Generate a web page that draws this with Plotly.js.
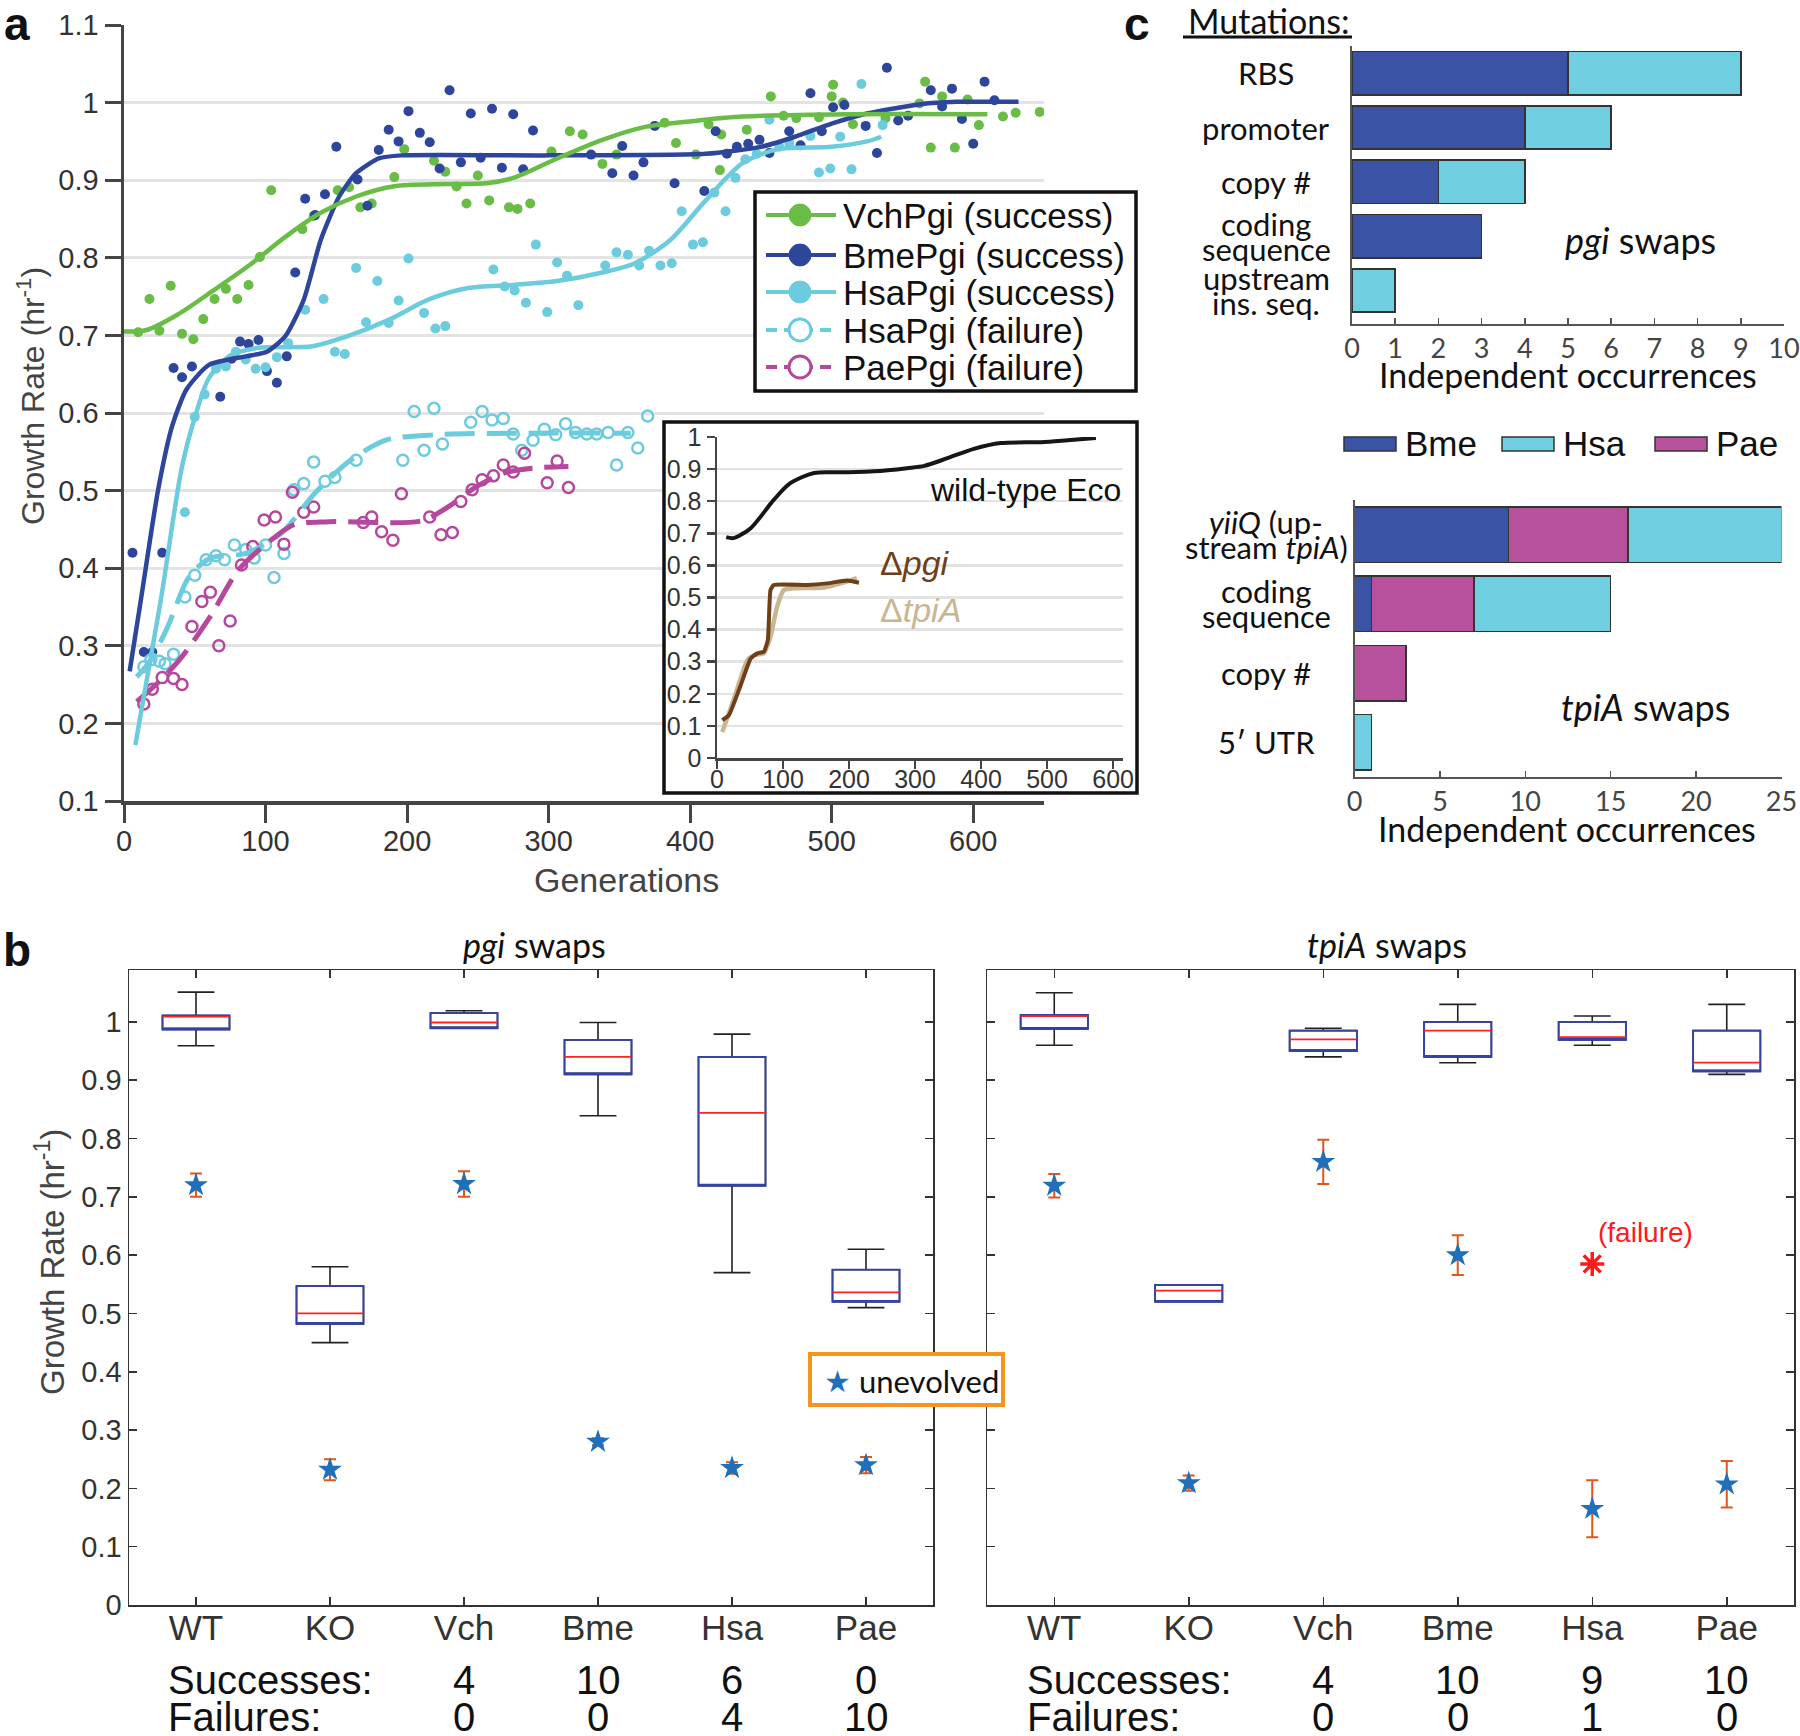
<!DOCTYPE html>
<html><head><meta charset="utf-8">
<script src="https://cdn.plot.ly/plotly-3.0.1.min.js"></script>
<style>html,body{margin:0;padding:0;background:#fff}</style>
</head><body>
<div id="chart" style="width:1800px;height:1736px"></div>
<script>
// ---------- Panel a data ----------
const vchGen=[10,18,25,33,41,49,56,64,72,80,88,96,104,126,134,151,159,167,175,191,198,219,227,235,242,250,258,272,278,287,302,315,324,338,348,382,390,404,413,421,422,440,457,466,475,491,500,501,508,515,538,562,566,570,578,587,596,604,621,630,647];
const vchRate=[.704,.747,.706,.764,.702,.695,.721,.747,.760,.747,.765,.801,.887,.837,.854,.887,.891,.865,.870,.904,.940,.925,.911,.892,.870,.906,.874,.865,.863,.870,.937,.963,.959,.921,.933,.974,.948,.933,.972,.913,.959,.965,1.008,.983,.980,.981,1.008,1.023,1.000,.972,.980,.999,1.027,.942,1.008,.942,1.004,.971,.982,.987,.988];
const bmeGen=[6,14,20,27,35,41,48,68,76,82,88,95,101,108,115,121,128,135,142,150,165,172,180,187,194,201,209,216,223,230,238,245,252,260,267,275,282,289,330,345,352,360,367,375,389,410,418,426,433,441,449,456,470,478,485,493,501,509,524,532,539,547,554,570,578,585,592,600,608,615];
const bmeRate=[.420,.292,.292,.420,.658,.646,.660,.621,.670,.692,.689,.694,.654,.639,.673,.781,.876,.855,.882,.943,.901,.867,.939,.965,.950,.989,.961,.949,.915,1.016,.923,.986,.929,.992,.916,.985,.914,.964,.933,.909,.944,.906,.923,.970,.896,.886,.963,.934,.943,.947,.952,.935,.963,.945,1.012,.963,.994,.997,.970,.935,1.045,.977,.983,1.016,.995,1.018,.979,.947,1.027,1.003];
const hsaGen=[43,50,57,65,72,79,86,93,100,108,116,128,141,149,156,164,171,179,187,194,201,212,220,227,261,269,276,284,291,299,306,313,321,340,348,356,364,371,379,387,394,402,409,417,425,432,439,447,456,463,470,485,491,499,506,514,521,536];
const hsaRate=[.472,.595,.624,.657,.660,.679,.669,.657,.659,.672,.690,.733,.747,.679,.676,.787,.717,.770,.716,.745,.799,.729,.709,.712,.785,.763,.758,.742,.817,.730,.794,.777,.739,.790,.807,.804,.790,.809,.790,.793,.860,.817,.820,.884,.860,.903,.927,.934,.978,.943,.948,.957,.910,.915,.956,.914,1.024,.971];
const hsaFailGen=[14,19,25,29,35,43,50,58,65,71,78,86,92,100,106,113,120,127,134,142,149,164,197,205,212,219,225,245,253,260,268,275,281,289,297,305,312,319,327,334,342,348,356,363,370];
const hsaFailRate=[.273,.282,.280,.277,.289,.363,.391,.411,.416,.411,.430,.424,.413,.430,.388,.419,.501,.509,.537,.512,.517,.539,.539,.602,.552,.606,.560,.588,.602,.591,.593,.573,.552,.565,.579,.572,.586,.575,.573,.573,.575,.533,.575,.555,.596];
const paeFailGen=[14,20,27,35,41,48,55,61,67,75,83,91,99,107,113,119,127,134,169,175,182,190,196,216,224,232,238,246,253,261,268,275,283,299,306,314];
const paeFailRate=[.225,.244,.259,.258,.250,.325,.357,.369,.300,.332,.404,.428,.462,.466,.431,.498,.472,.479,.459,.466,.447,.436,.496,.466,.443,.446,.486,.501,.514,.519,.533,.524,.548,.510,.538,.504];
// fitted trends
const vchFitGen=[0,16,38,64,89,114,139,164,190,227,256,275,306,338,369,406,437,512,610];
const vchFitRate=[.705,.707,.727,.759,.791,.827,.858,.879,.892,.895,.896,.903,.928,.952,.969,.977,.982,.985,.985];
const bmeFitGen=[4,12,24,34,44,60,86,101,114,127,139,152,164,180,196,300,411,450,474,500,525,563,588,632];
const bmeFitRate=[.267,.36,.50,.583,.63,.662,.673,.679,.699,.746,.823,.879,.909,.928,.932,.932,.934,.943,.956,.973,.986,.998,1.001,1.001];
const hsaFitGen=[8,26,41,51,60,76,95,133,158,187,215,243,275,306,338,361,386,411,437,462,500,525,535];
const hsaFitRate=[.172,.359,.531,.600,.645,.675,.684,.686,.699,.720,.746,.761,.765,.770,.781,.793,.823,.874,.922,.940,.943,.950,.956];
const hsaFailFitGen=[9,19,31,46,61,86,111,135,160,185,220,284,358];
const hsaFailFitRate=[.260,.282,.325,.389,.413,.419,.445,.497,.539,.565,.572,.574,.574];
const paeFailFitGen=[9,26,41,61,81,101,120,145,210,229,249,269,289,314];
const paeFailFitRate=[.228,.256,.286,.338,.398,.432,.456,.460,.461,.479,.505,.523,.529,.531];
const legendLabels=['VchPgi (success)','BmePgi (success)','HsaPgi (success)','HsaPgi (failure)','PaePgi (failure)'];
const genTicks=[0,100,200,300,400,500,600];
// inset
const ecoGen=[14,25,51,86,111,147,187,238,288,314,349,389,430,491,531,574];
const ecoRate=[.688,.685,.716,.804,.856,.888,.890,.893,.903,.910,.934,.963,.981,.984,.990,.997];
const dPgiGen=[8,18,35,51,61,71,77,81,86,137,167,197,215];
const dPgiRate=[.118,.133,.222,.310,.326,.331,.367,.523,.539,.539,.544,.553,.546];
const dTpiGen=[8,25,46,56,71,81,91,101,121,162,187,212];
const dTpiRate=[.081,.180,.305,.320,.326,.378,.471,.523,.529,.531,.544,.560];

// ---------- Panel c data ----------
const pgiCats=['RBS','promoter','copy #','coding sequence','upstream ins. seq.'];
const pgiCatLines=[['RBS'],['promoter'],['copy #'],['coding','sequence'],['upstream','ins. seq.']];
const pgiBme=[5,4,2,3,0];
const pgiHsa=[4,2,2,0,1];
const tpiCats=['yiiQ (upstream tpiA)','coding sequence','copy #','5′ UTR'];
const tpiCatLines=[['<i>yiiQ</i> (up-','stream <i>tpiA</i>)'],['coding','sequence'],['copy #'],['5′ UTR']];
const tpiBme=[9,1,0,0];
const tpiPae=[7,6,3,0];
const tpiHsa=[9,8,0,1];

// ---------- Panel b data ----------
const strains=['WT','KO','Vch','Bme','Hsa','Pae'];
const pgiLo=[.959,.450,.989,.839,.570,.510];
const pgiQ1=[.987,.482,.989,.910,.719,.520];
const pgiMed=[1.009,.500,.999,.940,.844,.536];
const pgiQ3=[1.011,.547,1.015,.969,.940,.575];
const pgiHi=[1.051,.580,1.019,.999,.979,.610];
const pgiUnevo=[.720,.232,.722,.280,.235,.240];
const pgiUnevoErr=[.020,.018,.022,.006,.010,.014];
const tpiLo=[.960,.520,.940,.930,.960,.910];
const tpiQ1=[.988,.520,.950,.940,.969,.915];
const tpiMed=[1.010,.539,.970,.985,.974,.930];
const tpiQ3=[1.012,.549,.985,1.000,1.000,.985];
const tpiHi=[1.050,.549,.989,1.030,1.010,1.030];
const tpiUnevo=[.719,.209,.760,.600,.165,.207];
const tpiUnevoErr=[.020,.013,.038,.034,.049,.040];
const tpiFailStrain=['Hsa'];
const tpiFailRate=[.585];
const countStrains=['Vch','Bme','Hsa','Pae'];
const pgiSucc=[4,10,6,0], pgiFail=[0,0,4,10];
const tpiSucc=[4,10,9,10], tpiFail=[0,0,1,0];

// ---------- helpers ----------
const W=1800,H=1736;
const helv='"Liberation Sans", Arial, Helvetica, sans-serif';
const myr='Lato, "Open Sans", sans-serif';
const X=p=>p/W, Y=p=>1-p/H;
function ann(text,x,y,size,o){o=o||{};
  const a={text:text,x:X(x),y:Y(y),xref:'paper',yref:'paper',showarrow:false,xanchor:'center',yanchor:'middle',
    font:Object.assign({family:helv,size:size,color:'#222'},o.font||{})};
  for(const k in o){if(k!=='font')a[k]=o[k];}
  return a;}
function rect(x0,y0,x1,y1,line,fill){return {type:'rect',xref:'paper',yref:'paper',x0:X(x0),x1:X(x1),y0:Y(y1),y1:Y(y0),line:line,fillcolor:fill||'rgba(0,0,0,0)',layer:'above'};}

const cVch='#69bc45',cBme='#2d469c',cHsa='#6ccbdd',cPae='#b5489c';
const bBme='#3a53a4',bHsa='#6fcedf',bPae='#b8519b';

const traces=[];
// main panel a: dots
traces.push({type:'scatter',mode:'markers',x:vchGen,y:vchRate,marker:{color:cVch,size:10},hoverinfo:'skip'});
traces.push({type:'scatter',mode:'markers',x:bmeGen,y:bmeRate,marker:{color:cBme,size:10},hoverinfo:'skip'});
traces.push({type:'scatter',mode:'markers',x:hsaGen,y:hsaRate,marker:{color:cHsa,size:10},hoverinfo:'skip'});
traces.push({type:'scatter',mode:'markers',x:hsaFailGen,y:hsaFailRate,marker:{color:cHsa,size:11,symbol:'circle-open',line:{width:2.5}},hoverinfo:'skip'});
traces.push({type:'scatter',mode:'markers',x:paeFailGen,y:paeFailRate,marker:{color:cPae,size:11,symbol:'circle-open',line:{width:2.5}},hoverinfo:'skip'});
// fits
const spl={shape:'spline',smoothing:0.8,width:4.5};
traces.push({type:'scatter',mode:'lines',x:hsaFailFitGen,y:hsaFailFitRate,line:Object.assign({},spl,{color:cHsa,dash:'30px,12px',width:5}),hoverinfo:'skip'});
traces.push({type:'scatter',mode:'lines',x:paeFailFitGen,y:paeFailFitRate,line:Object.assign({},spl,{color:cPae,dash:'30px,12px',width:5}),hoverinfo:'skip'});
traces.push({type:'scatter',mode:'lines',x:hsaFitGen,y:hsaFitRate,line:Object.assign({},spl,{color:cHsa}),hoverinfo:'skip'});
traces.push({type:'scatter',mode:'lines',x:bmeFitGen,y:bmeFitRate,line:Object.assign({},spl,{color:cBme,smoothing:0.6}),hoverinfo:'skip'});
traces.push({type:'scatter',mode:'lines',x:vchFitGen,y:vchFitRate,line:Object.assign({},spl,{color:cVch}),hoverinfo:'skip'});
// cover subplot for inset background
traces.push({type:'scatter',x:[],y:[],xaxis:'x2',yaxis:'y2',hoverinfo:'skip'});
// inset
traces.push({type:'scatter',mode:'lines',x:ecoGen,y:ecoRate,xaxis:'x3',yaxis:'y3',line:{color:'#161616',width:4,shape:'spline',smoothing:0.8},hoverinfo:'skip'});
traces.push({type:'scatter',mode:'lines',x:dTpiGen,y:dTpiRate,xaxis:'x3',yaxis:'y3',line:{color:'#c9b693',width:4.5,shape:'spline',smoothing:0.5},hoverinfo:'skip'});
traces.push({type:'scatter',mode:'lines',x:dPgiGen,y:dPgiRate,xaxis:'x3',yaxis:'y3',line:{color:'#6e3f18',width:4,shape:'spline',smoothing:0.4},hoverinfo:'skip'});
// panel c bars
const barLine={color:'#333',width:1.5};
traces.push({type:'bar',orientation:'h',y:pgiCats,x:pgiBme,xaxis:'x4',yaxis:'y4',marker:{color:bBme,line:barLine},hoverinfo:'skip'});
traces.push({type:'bar',orientation:'h',y:pgiCats,x:pgiHsa,xaxis:'x4',yaxis:'y4',marker:{color:bHsa,line:barLine},hoverinfo:'skip'});
traces.push({type:'bar',orientation:'h',y:tpiCats,x:tpiBme,xaxis:'x5',yaxis:'y5',marker:{color:bBme,line:barLine},hoverinfo:'skip'});
traces.push({type:'bar',orientation:'h',y:tpiCats,x:tpiPae,xaxis:'x5',yaxis:'y5',marker:{color:bPae,line:barLine},hoverinfo:'skip'});
traces.push({type:'bar',orientation:'h',y:tpiCats,x:tpiHsa,xaxis:'x5',yaxis:'y5',marker:{color:bHsa,line:barLine},hoverinfo:'skip'});
// panel b boxes
function boxTraces(xa,ya,lo,q1,med,q3,hi){
  const c={type:'box',x:strains,xaxis:xa,yaxis:ya,width:0.5,boxpoints:false,fillcolor:'rgba(0,0,0,0)',hoverinfo:'skip'};
  return [
    Object.assign({},c,{q1:q1,median:q1,q3:q3,lowerfence:lo,upperfence:hi,whiskerwidth:0.55,line:{color:'#222',width:1.6}}),
    Object.assign({},c,{q1:q1,median:q1,q3:q3,lowerfence:q1,upperfence:q3,whiskerwidth:0,line:{color:'#3242a8',width:1.8}}),
    Object.assign({},c,{q1:med,median:med,q3:med,lowerfence:med,upperfence:med,whiskerwidth:0,line:{color:'#ff2222',width:1.8}})
  ];}
boxTraces('x6','y6',pgiLo,pgiQ1,pgiMed,pgiQ3,pgiHi).forEach(t=>traces.push(t));
boxTraces('x7','y7',tpiLo,tpiQ1,tpiMed,tpiQ3,tpiHi).forEach(t=>traces.push(t));
const errStyle={type:'data',visible:true,color:'#e0561c',thickness:2,width:6};
traces.push({type:'scatter',mode:'markers',x:strains,y:pgiUnevo,xaxis:'x6',yaxis:'y6',error_y:Object.assign({array:pgiUnevoErr},errStyle),marker:{symbol:'star',size:18,color:'#1f6fba'},hoverinfo:'skip'});
traces.push({type:'scatter',mode:'markers',x:strains,y:tpiUnevo,xaxis:'x7',yaxis:'y7',error_y:Object.assign({array:tpiUnevoErr},errStyle),marker:{symbol:'star',size:18,color:'#1f6fba'},hoverinfo:'skip'});
traces.push({type:'scatter',mode:'markers',x:tpiFailStrain,y:tpiFailRate,xaxis:'x7',yaxis:'y7',marker:{symbol:'asterisk-open',size:20,color:'#ff1a1a',line:{color:'#ff1a1a',width:3.5}},hoverinfo:'skip'});

// ---------- axes ----------
const axA={showline:true,linecolor:'#444',linewidth:3.5,ticks:'outside',tickcolor:'#444',tickwidth:3,zeroline:false,tickfont:{family:helv,size:29,color:'#333'}};
const axIn={showline:true,linecolor:'#444',linewidth:2.5,ticks:'outside',tickcolor:'#444',tickwidth:2.5,ticklen:8,zeroline:false,tickfont:{family:helv,size:25,color:'#333'}};
const axC={showline:true,linecolor:'#555',linewidth:2,zeroline:false,showgrid:false};
const axB={showline:true,mirror:'ticks',linecolor:'#333',linewidth:1.5,ticks:'inside',ticklen:8,tickwidth:1.5,tickcolor:'#333',zeroline:false,showgrid:false};

const layout={
  width:W,height:H,margin:{l:0,r:0,t:0,b:0},showlegend:false,paper_bgcolor:'#fff',plot_bgcolor:'#fff',
  barmode:'stack',boxmode:'overlay',
  xaxis:Object.assign({},axA,{domain:[X(124),X(1044)],range:[0,650],tickvals:genTicks,ticklen:18,ticklabelstandoff:-6,showgrid:false,anchor:'y'}),
  yaxis:Object.assign({},axA,{domain:[Y(801),Y(25)],range:[0.1,1.1],tick0:0.1,dtick:0.1,ticklen:16,showgrid:true,gridcolor:'#e3e3e3',gridwidth:3,anchor:'x'}),
  xaxis2:{domain:[X(664),X(1137)],range:[0,1],visible:false,anchor:'y2'},
  yaxis2:{domain:[Y(793),Y(422)],range:[0,1],visible:false,anchor:'x2'},
  xaxis3:Object.assign({},axIn,{domain:[X(717),X(1123)],range:[0,615],tickvals:genTicks,ticklabelstandoff:-11,showgrid:false,anchor:'y3'}),
  yaxis3:Object.assign({},axIn,{domain:[Y(758),Y(437)],range:[0,1.0],tick0:0,dtick:0.1,showgrid:true,gridcolor:'#e3e3e3',gridwidth:2.5,anchor:'x3'}),
  xaxis4:Object.assign({},axC,{domain:[X(1352),X(1784)],range:[0,10],dtick:1,tick0:0,ticks:'inside',ticklen:6,tickcolor:'#555',tickwidth:1.5,tickfont:{family:myr,size:27,color:'#444'},anchor:'y4'}),
  yaxis4:Object.assign({},axC,{domain:[Y(324),Y(46)],type:'category',categoryorder:'array',categoryarray:pgiCats,autorange:'reversed',showticklabels:false,ticks:'',anchor:'x4'}),
  xaxis5:Object.assign({},axC,{domain:[X(1354.6),X(1781.5)],range:[0,25],dtick:5,tick0:0,ticks:'inside',ticklen:6,tickcolor:'#555',tickwidth:1.5,tickfont:{family:myr,size:27,color:'#444'},anchor:'y5'}),
  yaxis5:Object.assign({},axC,{domain:[Y(777),Y(500)],type:'category',categoryorder:'array',categoryarray:tpiCats,autorange:'reversed',showticklabels:false,ticks:'',anchor:'x5'}),
  xaxis6:Object.assign({},axB,{domain:[X(129),X(933)],type:'category',range:[-0.5,5.5],ticklabelstandoff:-9,tickfont:{family:helv,size:35,color:'#333'},anchor:'y6'}),
  yaxis6:Object.assign({},axB,{domain:[Y(1605),Y(970)],range:[0,1.089],tick0:0,dtick:0.1,tickfont:{family:helv,size:29,color:'#333'},anchor:'x6'}),
  xaxis7:Object.assign({},axB,{domain:[X(987),X(1794)],type:'category',range:[-0.5,5.5],ticklabelstandoff:-9,tickfont:{family:helv,size:35,color:'#333'},anchor:'y7'}),
  yaxis7:Object.assign({},axB,{domain:[Y(1605),Y(970)],range:[0,1.089],tick0:0,dtick:0.1,showticklabels:false,anchor:'x7'}),
  shapes:[],annotations:[]
};
const S=layout.shapes, A=layout.annotations;

// panel letters
A.push(ann('<b>a</b>',17,24,46,{font:{color:'#111'}}));
A.push(ann('<b>b</b>',17,950,46,{font:{color:'#111'}}));
A.push(ann('<b>c</b>',1137,24,46,{font:{color:'#111'}}));

// panel a titles
A.push(ann('Growth Rate (hr<sup>-1</sup>)',31,396,32,{textangle:-90,font:{color:'#444'}}));
A.push(ann('Generations',626,880,34,{font:{color:'#444'}}));

// panel a legend (drawn)
S.push(rect(755,192,1136,391,{color:'#111',width:3.5},'#fff'));
const legRows=[215,255,292,330,367];
const legColors=[cVch,cBme,cHsa,cHsa,cPae];
const legOpen=[false,false,false,true,true];
legendLabels.forEach((t,i)=>{
  const r=legRows[i];
  S.push({type:'line',xref:'paper',yref:'paper',x0:X(766),x1:X(836),y0:Y(r),y1:Y(r),layer:'above',line:{color:legColors[i],width:4,dash:legOpen[i]?'11px,7px':'solid'}});
  S.push({type:'circle',xref:'paper',yref:'paper',x0:X(789),x1:X(811),y0:Y(r+11),y1:Y(r-11),layer:'above',fillcolor:legOpen[i]?'#fff':legColors[i],line:{color:legColors[i],width:legOpen[i]?3:1}});
  A.push(ann(t,841,r,35,{xanchor:'left',font:{color:'#111'}}));
});

// inset border & labels
S.push(rect(664,422,1137,793,{color:'#111',width:3.5}));
A.push(ann('wild-type Eco',1025,490,32,{font:{color:'#111'}}));
A.push(ann('Δ<i>pgi</i>',878,563,34,{xanchor:'left',font:{color:'#6e3f18'}}));
A.push(ann('Δ<i>tpiA</i>',878,610,34,{xanchor:'left',font:{color:'#c9b693'}}));

// panel c
A.push(ann('Mutations:',1269,20,34,{font:{family:myr,color:'#111'}}));
S.push({type:'line',xref:'paper',yref:'paper',x0:X(1183),x1:X(1352),y0:Y(37),y1:Y(37),line:{color:'#111',width:3},layer:'above'});
function catLabels(cats,lines,yref){
  cats.forEach((c,i)=>{
    const L=lines[i];
    L.forEach((t,j)=>{
      const shift=L.length===1?0:(j===0?12.5:-12.5);
      A.push({text:t,x:X(1266),xref:'paper',y:c,yref:yref,yshift:shift,showarrow:false,xanchor:'center',yanchor:'middle',font:{family:myr,size:31,color:'#111'}});
    });
  });
}
catLabels(pgiCats,pgiCatLines,'y4');
catLabels(tpiCats,tpiCatLines,'y5');
A.push(ann('<i>pgi</i> swaps',1640,240,36,{font:{family:myr,color:'#111'}}));
A.push(ann('<i>tpiA</i> swaps',1645,707,36,{font:{family:myr,color:'#111'}}));
A.push(ann('Independent occurrences',1568,375,34,{font:{family:myr,color:'#111'}}));
A.push(ann('Independent occurrences',1567,828,34,{font:{family:myr,color:'#111'}}));
// panel c legend
[[1344,bBme,'Bme'],[1502,bHsa,'Hsa'],[1655,bPae,'Pae']].forEach(l=>{
  S.push(rect(l[0],437,l[0]+52,451,{color:'#333',width:1.5},l[1]));
  A.push(ann(l[2],l[0]+59,443,35,{xanchor:'left',font:{color:'#111'}}));
});

// panel b texts
A.push(ann('<i>pgi</i> swaps',534,945,34,{font:{family:myr,color:'#111'}}));
A.push(ann('<i>tpiA</i> swaps',1387,945,34,{font:{family:myr,color:'#111'}}));
A.push(ann('Growth Rate (hr<sup>-1</sup>)',50,1262,33,{textangle:-90,font:{color:'#444'}}));
A.push(ann('(failure)',1645,1232,28,{font:{color:'#ff1a1a'}}));
S.push(rect(810,1354,1003,1405,{color:'#f7941d',width:4},'#fff'));
A.push(ann('★',837,1381,30,{font:{family:'DejaVu Sans',color:'#1f6fba'}}));
A.push(ann('unevolved',857,1381,31,{xanchor:'left',font:{family:myr,color:'#111'}}));
A.push(ann('Successes:',166,1680,40,{xanchor:'left',font:{color:'#111'}}));
A.push(ann('Failures:',166,1717,40,{xanchor:'left',font:{color:'#111'}}));
A.push(ann('Successes:',1025,1680,40,{xanchor:'left',font:{color:'#111'}}));
A.push(ann('Failures:',1025,1717,40,{xanchor:'left',font:{color:'#111'}}));
function counts(xref,arrS,arrF){
  countStrains.forEach((s,i)=>{
    A.push({text:String(arrS[i]),x:s,xref:xref,y:Y(1680),yref:'paper',showarrow:false,xanchor:'center',yanchor:'middle',font:{family:helv,size:40,color:'#111'}});
    A.push({text:String(arrF[i]),x:s,xref:xref,y:Y(1717),yref:'paper',showarrow:false,xanchor:'center',yanchor:'middle',font:{family:helv,size:40,color:'#111'}});
  });
}
counts('x6',pgiSucc,pgiFail);
counts('x7',tpiSucc,tpiFail);

Plotly.newPlot('chart',traces,layout,{staticPlot:true});
</script></body></html>
